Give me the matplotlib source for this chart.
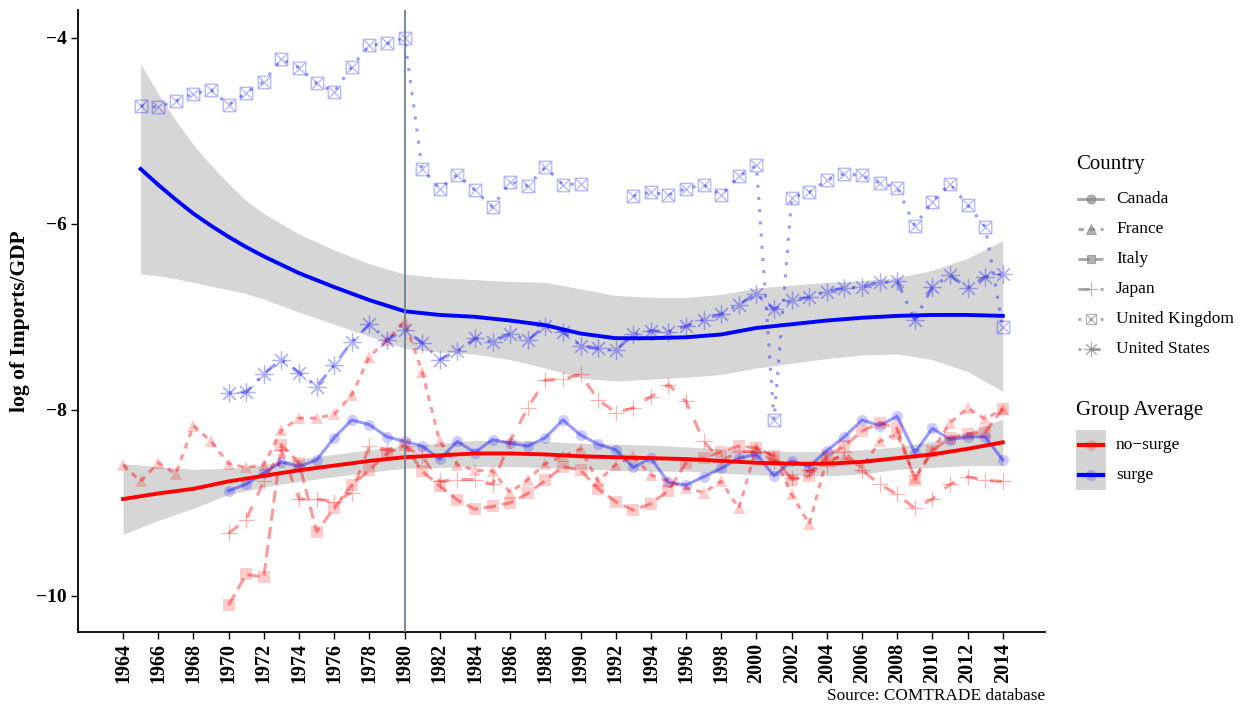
import numpy as np
import matplotlib.pyplot as plt
from matplotlib.patches import Rectangle
from matplotlib.path import Path

plt.rcParams['font.family'] = ['Liberation Serif', 'DejaVu Serif']

nan = np.nan
years = np.arange(1964, 2015)

# log(imports/GDP) by country, 1964-2014 (nan = no observation)
canada = [nan]*6 + [-8.87, -8.80, -8.68, -8.56, -8.61, -8.54, -8.30, -8.11, -8.16, -8.29,
                    -8.34, -8.39, -8.53, -8.34, -8.46, -8.32, -8.36, -8.39, -8.30, -8.11,
                    -8.27, -8.37, -8.43, -8.62, -8.52, -8.78, -8.81, -8.72, -8.63, -8.52,
                    -8.48, -8.71, -8.55, -8.61, -8.44, -8.29, -8.11, -8.17, -8.07, -8.46,
                    -8.20, -8.32, -8.29, -8.29, -8.54]
france = [-8.59, -8.77, -8.57, -8.69, -8.17, -8.34, -8.58, -8.62, -8.59, -8.22,
          -8.09, -8.09, -8.05, -7.84, -7.43, -7.25, -7.05, -7.59, -8.34, -8.59,
          -8.65, -8.66, -8.89, -8.75, -8.58, -8.50, -8.42, -8.77, -8.59, -8.50,
          -8.70, -8.77, -8.84, -8.89, -8.77, -9.06, -8.41, -8.50, -8.91, -9.23,
          -8.53, -8.51, -8.62, -8.34, -8.26, -8.73, -8.44, -8.14, -7.98, -8.10, -7.99]
italy = [nan]*6 + [-10.10, -9.77, -9.80, -8.38, -8.57, -9.31, -9.06, -8.81, -8.65, -8.47,
                   -8.38, -8.66, -8.82, -8.97, -9.07, -9.04, -9.00, -8.90, -8.76, -8.61,
                   -8.65, -8.85, -8.99, -9.08, -9.01, -8.87, -8.57, -8.52, -8.45, -8.39,
                   -8.41, -8.50, -8.75, -8.71, -8.50, -8.39, -8.23, -8.14, -8.20, -8.75,
                   -8.44, -8.30, -8.26, -8.24, -7.99]
japan = [nan]*6 + [-9.33, -9.18, -8.77, -8.43, -8.96, -8.96, -8.99, -8.89, -8.39, -8.43,
                   -8.39, -8.50, -8.77, -8.75, -8.75, -8.80, -8.34, -7.98, -7.68, -7.67,
                   -7.62, -7.89, -8.03, -7.98, -7.86, -7.73, -7.91, -8.34, -8.55, -8.45,
                   -8.45, -8.55, -8.73, -8.65, -8.60, -8.45, -8.65, -8.80, -8.91, -9.06,
                   -8.96, -8.80, -8.72, -8.76, -8.77]
uk = [nan] + [-4.73, -4.745, -4.68, -4.60, -4.56, -4.72, -4.59, -4.47, -4.23,
              -4.32, -4.49, -4.58, -4.31, -4.08, -4.06, -4.00, -5.41, -5.62, -5.47,
              -5.64, -5.82, -5.55, -5.59, -5.39, -5.58, -5.57, nan, nan, -5.70,
              -5.66, -5.69, -5.62, -5.58, -5.69, -5.49, -5.37, -8.11, -5.72, -5.66,
              -5.53, -5.46, -5.48, -5.56, -5.61, -6.02, -5.76, -5.57, -5.80, -6.03, -7.11]
us = [nan]*6 + [-7.82, -7.81, -7.61, -7.46, -7.60, -7.75, -7.52, -7.27, -7.08, -7.25,
                -7.14, -7.28, -7.46, -7.37, -7.23, -7.27, -7.18, -7.25, -7.10, -7.16,
                -7.31, -7.34, -7.36, -7.19, -7.15, -7.16, -7.10, -7.03, -6.97, -6.87,
                -6.75, -6.92, -6.82, -6.79, -6.73, -6.69, -6.68, -6.63, -6.62, -7.03,
                -6.68, -6.55, -6.69, -6.57, -6.54]

# smoothed group averages with half-width of the confidence band
surge_years = [1965, 1966, 1967, 1968, 1969, 1970, 1971, 1972, 1974, 1976, 1978, 1980,
               1982, 1984, 1986, 1988, 1990, 1992, 1994, 1996, 1998, 2000, 2002, 2004,
               2006, 2008, 2010, 2012, 2014]
surge_fit = [-5.41, -5.58, -5.74, -5.89, -6.02, -6.14, -6.25, -6.35, -6.53, -6.68, -6.82,
             -6.94, -6.98, -7.00, -7.04, -7.09, -7.18, -7.23, -7.23, -7.22, -7.19, -7.12,
             -7.08, -7.04, -7.01, -6.99, -6.98, -6.98, -6.99]
surge_se = [1.13, 0.98, 0.85, 0.74, 0.65, 0.57, 0.50, 0.46, 0.42, 0.40, 0.39, 0.40, 0.40,
            0.40, 0.42, 0.46, 0.48, 0.46, 0.44, 0.43, 0.43, 0.43, 0.42, 0.41, 0.40, 0.41,
            0.48, 0.61, 0.81]
nosurge_years = list(range(1964, 2015, 2))
nosurge_fit = [-8.96, -8.90, -8.85, -8.77, -8.71, -8.65, -8.60, -8.55, -8.51, -8.49, -8.47,
               -8.47, -8.48, -8.50, -8.51, -8.52, -8.53, -8.55, -8.57, -8.58, -8.58, -8.56,
               -8.52, -8.48, -8.42, -8.35]
nosurge_se = [0.38, 0.29, 0.21, 0.14, 0.12, 0.12, 0.12, 0.12, 0.12, 0.13, 0.14, 0.14, 0.14,
              0.14, 0.14, 0.14, 0.13, 0.13, 0.13, 0.13, 0.13, 0.13, 0.12, 0.14, 0.18, 0.25]

RED = '#FF0000'
BLUE = '#0000FF'

# square with a cross inside
boxx = Path([(-1, -1), (1, -1), (1, 1), (-1, 1), (-1, -1), (-1, -1), (1, 1), (-1, 1), (1, -1)],
            [Path.MOVETO, Path.LINETO, Path.LINETO, Path.LINETO, Path.CLOSEPOLY,
             Path.MOVETO, Path.LINETO, Path.MOVETO, Path.LINETO])

# name, values, colour, dashes, marker, marker size, filled
countries = [
    ('Canada', canada, BLUE, None, 'o', 8, True),
    ('France', france, RED, (2, 2), '^', 9, True),
    ('Italy', italy, RED, (4, 2), 's', 8, True),
    ('Japan', japan, RED, (4, 4), '+', 12, False),
    ('United Kingdom', uk, BLUE, (1, 3), boxx, 9, False),
    ('United States', us, BLUE, (1, 3, 4, 3), (8, 2, 0), 13, False),
]

fig = plt.figure(figsize=(12.44, 7.11), dpi=100)
ax = fig.add_axes([78/1244, 1-632/711, (1045-78)/1244, (632-10)/711])

for yrs, fit, se in [(surge_years, surge_fit, surge_se), (nosurge_years, nosurge_fit, nosurge_se)]:
    fit = np.array(fit)
    se = np.array(se)
    ax.fill_between(yrs, fit - se, fit + se, color='#999999', alpha=0.4, lw=0, zorder=1)

for name, vals, col, dash, mk, ms, filled in countries:
    vals = np.array(vals, dtype=float)
    ln, = ax.plot(years, vals, color=col, alpha=0.4, lw=2.2, zorder=2)
    if dash is not None:
        ln.set_dashes(dash)
    if filled:
        ax.plot(years, vals, ls='none', marker=mk, ms=ms, color=col, alpha=0.2,
                markeredgewidth=0, zorder=3)
    else:
        ax.plot(years, vals, ls='none', marker=mk, ms=ms, color=col, alpha=0.3,
                markerfacecolor='none', markeredgewidth=0.9, zorder=3)

ax.plot(surge_years, surge_fit, color=BLUE, lw=2.8, zorder=4)
ax.plot(nosurge_years, nosurge_fit, color=RED, lw=2.8, zorder=4)

ax.axvline(1980, color='#708090', lw=1.3, zorder=5)

ax.set_xlim(1961.44, 2016.4)
ax.set_ylim(-10.39, -3.70)
ax.set_xticks(range(1964, 2015, 2))
ax.set_xticklabels([str(y) for y in range(1964, 2015, 2)], rotation=90,
                   fontsize=14.5, fontweight='bold')
ax.set_yticks([-4, -6, -8, -10])
ax.set_yticklabels(['\u22124', '\u22126', '\u22128', '\u221210'], fontsize=14, fontweight='bold')
ax.tick_params(length=5, width=1, color='black', pad=3)
ax.spines['top'].set_visible(False)
ax.spines['right'].set_visible(False)
ax.spines['left'].set_linewidth(1.3)
ax.spines['bottom'].set_linewidth(1.3)
ax.set_ylabel('log of Imports/GDP', fontsize=15.5, fontweight='bold')
ax.yaxis.set_label_coords(-0.05, 0.5)

fig.text(1045/1244, 1-700/711, 'Source: COMTRADE database', ha='right', va='baseline',
         fontsize=12.4)

# legends, laid out in pixel units on an overlay axes
lax = fig.add_axes([0, 0, 1, 1], zorder=10)
lax.set_xlim(0, 1244)
lax.set_ylim(711, 0)
lax.axis('off')

lax.text(1076, 165, 'Country', fontsize=15, va='center', ha='left')
for i, (name, vals, col, dash, mk, ms, filled) in enumerate(countries):
    yk = 199 + 30 * i
    h, = lax.plot([1078, 1103], [yk, yk], color='#7f7f7f', alpha=0.7, lw=2)
    if dash is not None:
        h.set_dashes(dash)
    lax.plot([1090.5], [yk], ls='none', marker=mk, ms=ms*0.8, color='#7f7f7f', alpha=0.6,
             markerfacecolor='#7f7f7f' if filled else 'none', markeredgewidth=0.8)
    lax.text(1116, yk, name, fontsize=12.5, va='center', ha='left')

lax.text(1076, 410, 'Group Average', fontsize=15, va='center', ha='left')
lax.add_patch(Rectangle((1076, 430), 30, 60, facecolor='#d4d4d4', edgecolor='none'))
for i, (lab, col) in enumerate([('no\u2212surge', RED), ('surge', BLUE)]):
    yk = 445 + 30 * i
    lax.plot([1079, 1103], [yk, yk], color=col, lw=3)
    lax.plot([1091], [yk], ls='none', marker='o', ms=8, color=col, alpha=0.2,
             markeredgewidth=0)
    lax.text(1116, yk, lab, fontsize=12.5, va='center', ha='left')

fig.savefig('out.png', dpi=100)
